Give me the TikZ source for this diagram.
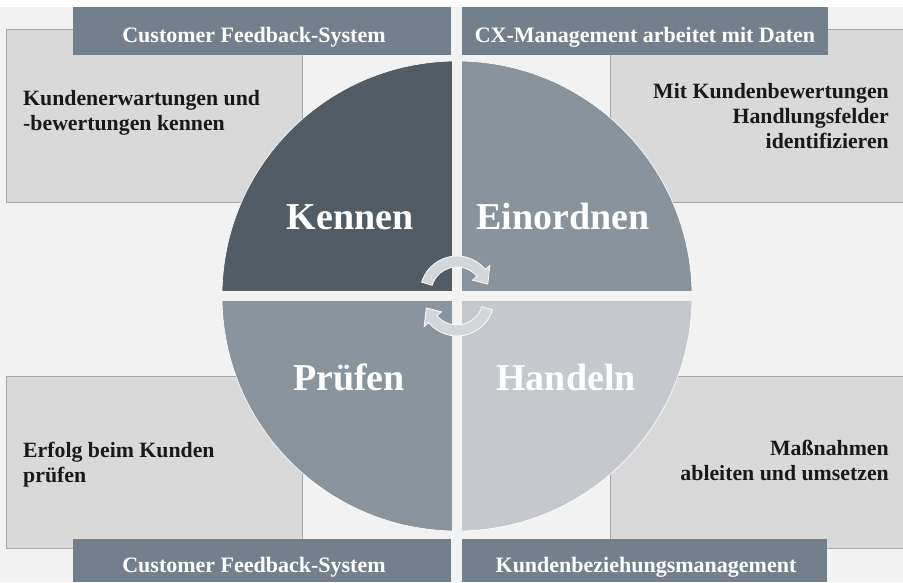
\documentclass[tikz,border=0pt]{standalone}
\usepackage{fontspec}
\setmainfont{Liberation Serif}
\usepackage{tikz}
\usetikzlibrary{positioning}

\definecolor{bgGray}{HTML}{F2F2F2}
\definecolor{boxGray}{HTML}{D9D9D9}
\definecolor{boxLine}{HTML}{A6A6A6}
\definecolor{slate}{HTML}{737F8A}
\definecolor{qKennen}{HTML}{525C64}
\definecolor{qEinordnen}{HTML}{89939B}
\definecolor{qPruefen}{HTML}{8A949C}
\definecolor{qHandeln}{HTML}{C5C8CC}
\definecolor{arrowGray}{HTML}{D4D7DA}

\begin{document}
\begin{tikzpicture}[x=1pt,y=-1pt,
	infobox/.style={fill=boxGray,draw=boxLine,line width=0.8pt},
	banner/.style={fill=slate},
	bannertext/.style={text=white,font=\bfseries\fontsize{22}{24}\selectfont,inner sep=0pt,anchor=base},
	boxtext/.style={font=\bfseries\fontsize{21.8}{25}\selectfont,inner sep=0pt,text=black!90},
	phase/.style={text=white,font=\bfseries\fontsize{38}{40}\selectfont,inner sep=0pt,anchor=base},
	turnarrow/.style={fill=arrowGray,draw=white,line width=0.7pt}] 
				\useasboundingbox (0,0) rectangle (903,582);
				\fill[white] (0,0) rectangle (903,582);
				\fill[bgGray] (0,7) rectangle (903,582);
				% grey boxes in the corners
				\draw[infobox] (6,29) rectangle (302,202);
				\draw[infobox] (610,29) rectangle (910,202);
				\draw[infobox] (6,376) rectangle (302,548);
				\draw[infobox] (610,376) rectangle (910,548);
				\node[boxtext, anchor=west, align=left] (erwartungen) at (23,113) {Kundenerwartungen und\\-bewertungen kennen};
				\node[boxtext, anchor=east, align=right] (handlungsfelder) at (889,116) {Mit Kundenbewertungen\\Handlungsfelder\\identifizieren};
				\node[boxtext, anchor=west, align=left] (erfolg) at (23,465) {Erfolg beim Kunden\\pr\"ufen};
				\node[boxtext, anchor=east, align=right] (massnahmen) at (889,460) {Ma\ss nahmen\\ableiten und umsetzen};
				% banners top and bottom
				\fill[banner] (73,7) rectangle (451,55);
				\fill[banner] (462,7) rectangle (828,55);
				\fill[banner] (73,539) rectangle (451,582);
				\fill[banner] (462,539) rectangle (827,582);
				\node[bannertext] (feedbackTop) at (254,42) {Customer Feedback-System};
				\node[bannertext] (cxTop) at (645,42) {CX-Management arbeitet mit Daten};
				\node[bannertext] (feedbackBottom) at (254,572) {Customer Feedback-System};
				\node[bannertext] (crmBottom) at (646,572) {Kundenbeziehungsmanagement};
				% the four quarters
				\begin{scope}[shift={(457,296)}]
				\fill[qKennen] (0,0) -- (180:235) arc[start angle=180,end angle=270,radius=235] -- cycle;
				\fill[qEinordnen] (0,0) -- (270:235) arc[start angle=270,end angle=360,radius=235] -- cycle;
				\fill[qHandeln] (0,0) -- (0:235) arc[start angle=0,end angle=90,radius=235] -- cycle;
				\fill[qPruefen] (0,0) -- (90:235) arc[start angle=90,end angle=180,radius=235] -- cycle;
				\draw[white, line width=0.6pt] (0,0) circle[radius=235];
				\end{scope}
				\fill[bgGray] (452,7) rectangle (462,582);
				\fill[bgGray] (215,291) rectangle (700,301);
				\node[phase] (kennen) at (350,229) {Kennen};
				\node[phase] (einordnen) at (563,229) {Einordnen};
				\node[phase] (pruefen) at (349,390) {Pr\"ufen};
				\node[phase] (handeln) at (566,390) {Handeln};
				% arrows in the middle
				\begin{scope}[shift={(457,293)}]
				\filldraw[turnarrow] (197:37) arc[start angle=197,end angle=320,radius=37] -- (320:43) -- (344:32) -- (320:20) -- (320:26) arc[start angle=320,end angle=197,radius=26] -- cycle;
				\end{scope}
				\begin{scope}[shift={(457,299)}]
				\filldraw[turnarrow] (17:37) arc[start angle=17,end angle=140,radius=37] -- (140:43) -- (164:32) -- (140:20) -- (140:26) arc[start angle=140,end angle=17,radius=26] -- cycle;
				\end{scope}
			\end{tikzpicture}
\end{document}
